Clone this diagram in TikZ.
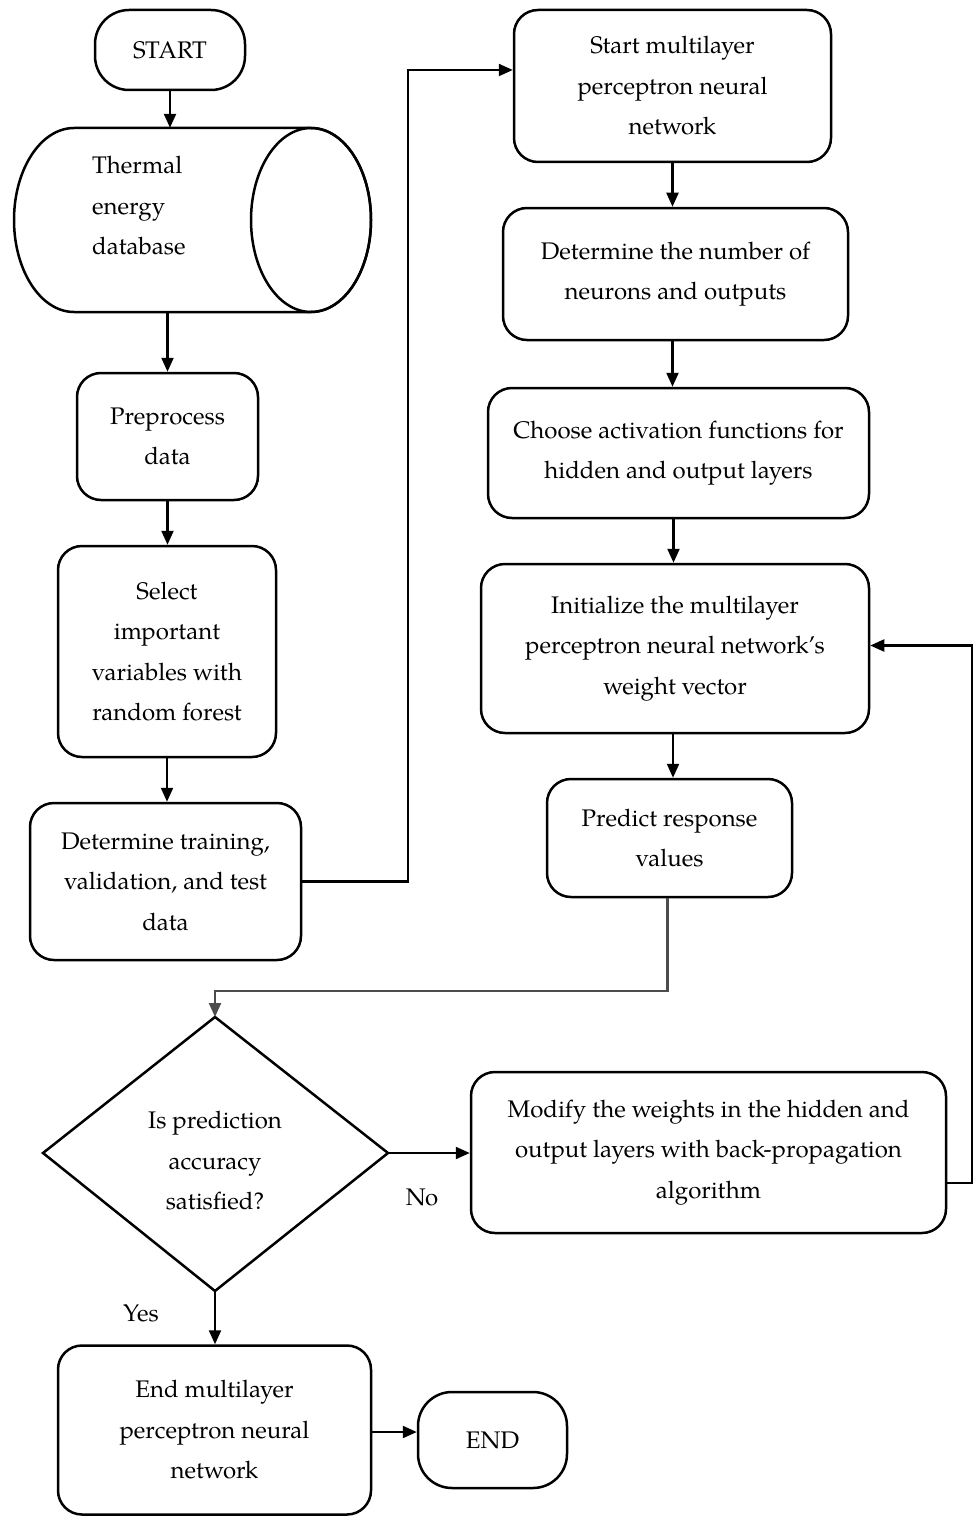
\documentclass[tikz,border=0pt]{standalone}
\usepackage{fontspec}
\setmainfont{texgyrepagella-regular.otf}
\usetikzlibrary{arrows.meta}
\begin{document}
\begin{tikzpicture}[x=1pt,y=-1pt,
  txt/.style={align=center, inner sep=0pt, font=\fontsize{24}{40.5}\selectfont},
  box/.style={txt, draw, line width=2.5pt, rounded corners=24pt},
  term/.style={box, rounded corners=34pt},
  arr/.style={line width=2.2pt, -{Triangle[length=14pt,width=12pt]}},
  garr/.style={arr, draw=black!70},
  lbl/.style={txt}]
\useasboundingbox (0,0) rectangle (973,1517);
% left column
\node[term, minimum width=150, minimum height=80] (start) at (170,50) {START};
\draw[line width=2.5pt] (74,128) -- (311,128) arc (-90:90:60 and 92) -- (74,312) arc (90:270:60 and 92) -- cycle;
\draw[line width=2.5pt] (311,220) ellipse (60 and 92);
\node[minimum width=358, minimum height=184, inner sep=0pt] (db) at (193,220) {};
\node[txt, align=left, anchor=west] (dbtext) at (92,206) {Thermal\\energy\\database};
\node[box, minimum width=181, minimum height=127] (pre) at (167.5,436.5) {Preprocess\\data};
\node[box, minimum width=218, minimum height=211] (sel) at (167,651.5) {Select\\important\\variables with\\random forest};
\node[box, minimum width=271, minimum height=157] (dt) at (165.5,881.5) {Determine training,\\validation, and test\\data};
% right column
\node[box, minimum width=317, minimum height=152] (smlp) at (672.5,86) {Start multilayer\\perceptron neural\\network};
\node[box, minimum width=345, minimum height=132] (dn) at (675.5,274) {Determine the number of\\neurons and outputs};
\node[box, minimum width=381, minimum height=130] (ch) at (678.5,453) {Choose activation functions for\\hidden and output layers};
\node[box, minimum width=388, minimum height=169] (init) at (675,648.5) {Initialize the multilayer\\perceptron neural network’s\\weight vector};
\node[box, minimum width=245, minimum height=118] (pred) at (669.5,838) {Predict response\\values};
% decision
\coordinate (dtop) at (215,1017);
\coordinate (dleft) at (43,1153);
\coordinate (dright) at (388,1153);
\coordinate (dbot) at (215,1291);
\draw[line width=2.5pt] (dtop) -- (dright) -- (dbot) -- (dleft) -- cycle;
\node[txt] (dtext) at (215,1161) {Is prediction\\accuracy\\satisfied?};
\node[box, minimum width=475, minimum height=161] (mod) at (708.5,1152.5) {Modify the weights in the hidden and\\output layers with back-propagation\\algorithm};
\node[box, minimum width=313, minimum height=169] (emlp) at (214.5,1430) {End multilayer\\perceptron neural\\network};
\node[term, minimum width=149, minimum height=96] (endn) at (492.5,1440) {END};
\node[lbl] (no) at (422,1197) {No};
\node[lbl] (yes) at (141,1313) {Yes};
% connectors
\draw[arr] (start.south) -- (start.south |- db.north);
\draw[arr] (pre.north |- db.south) -- (pre.north);
\draw[arr] (pre.south) -- (pre.south |- sel.north);
\draw[arr] (sel.south) -- (sel.south |- dt.north);
\coordinate (up) at (408,881.5);
\draw[arr] (dt.east) -- (up) |- ([yshift=16pt]smlp.west);
\draw[arr] (smlp.south) -- (smlp.south |- dn.north);
\draw[arr] ([xshift=-3pt]dn.south) -- ([xshift=-3pt]dn.south |- ch.north);
\draw[arr] ([xshift=-5pt]ch.south) -- ([xshift=-5pt]ch.south |- init.north);
\draw[arr] ([xshift=-2pt]init.south) -- ([xshift=-2pt]init.south |- pred.north);
\coordinate (bend) at (215,991);
\draw[garr] ([xshift=-2pt]pred.south) |- (bend) -- (dtop);
\draw[arr] (dright) -- (dright -| mod.west);
\coordinate (rt) at (972.5,1183);
\draw[arr] (mod.east |- rt) -- (rt) |- ([yshift=3pt]init.east);
\draw[arr] (dbot) -- (dbot |- emlp.north);
\coordinate (ej) at (371,1432);
\draw[arr] (ej) -- (ej -| endn.west);
\end{tikzpicture}
\end{document}
